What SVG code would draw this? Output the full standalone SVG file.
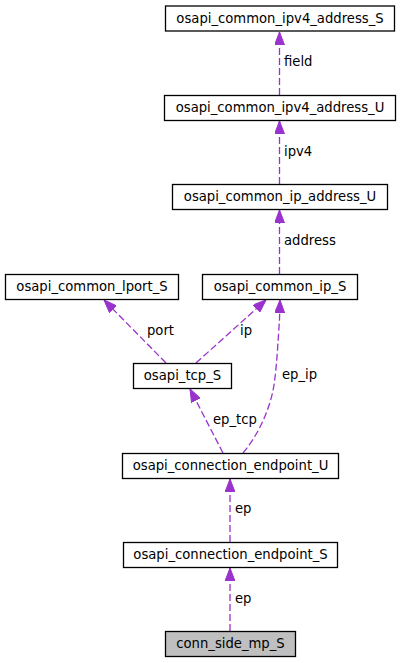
<svg xmlns="http://www.w3.org/2000/svg" width="401" height="663" viewBox="0 0 401 663">
<style>
.node rect{fill:#ffffff;stroke:#000000;stroke-width:1.3}
.node.root rect{fill:#bfbfbf}
text{font-family:"DejaVu Sans","Noto Sans",sans-serif;font-size:13.2px;fill:#000000}
.node text{text-anchor:middle}
.edge{fill:none;stroke:#9a32cd;stroke-width:1.3;stroke-dasharray:7,3;marker-end:url(#arr)}
</style>
<defs>
<marker id="arr" viewBox="0 0 13 10" refX="13" refY="5" markerWidth="13" markerHeight="10" markerUnits="userSpaceOnUse" orient="auto">
<path d="M0,0 L13,5 L0,10 z" fill="#9a32cd" stroke="#9a32cd" stroke-width="1"/>
</marker>
</defs>
<rect width="401" height="663" fill="#ffffff"/>
<g id="connectors">
<path class="edge" d="M279.5,95 L279.5,32"/>
<path class="edge" d="M279.5,184 L279.5,121"/>
<path class="edge" d="M279.5,274 L279.5,210"/>
<path class="edge" d="M166,363 L104,300"/>
<path class="edge" d="M196,363 L266,300"/>
<path class="edge" d="M243,453 C258,435 270,410 274,385 C277,365 278,340 279.5,320 L280,300"/>
<path class="edge" d="M223,453 L190,389"/>
<path class="edge" d="M230,542 L230,479"/>
<path class="edge" d="M230,631 L230,568"/>
<text x="284" y="66">field</text>
<text x="284" y="156">ipv4</text>
<text x="284" y="245">address</text>
<text x="147" y="335">port</text>
<text x="240" y="335">ip</text>
<text x="282" y="379">ep_ip</text>
<text x="213" y="424">ep_tcp</text>
<text x="235" y="513">ep</text>
<text x="235" y="603">ep</text>
</g>
<g id="osapi_common_ipv4_address_S" class="node"><rect x="165.5" y="6" width="229" height="25"/><text x="280" y="22.5">osapi_common_ipv4_address_S</text></g>
<g id="osapi_common_ipv4_address_U" class="node"><rect x="164.5" y="95.5" width="231" height="25"/><text x="280" y="112">osapi_common_ipv4_address_U</text></g>
<g id="osapi_common_ip_address_U" class="node"><rect x="172.5" y="184.5" width="215" height="25"/><text x="280" y="201">osapi_common_ip_address_U</text></g>
<g id="osapi_common_lport_S" class="node"><rect x="5.5" y="274.5" width="173" height="25"/><text x="92" y="291">osapi_common_lport_S</text></g>
<g id="osapi_common_ip_S" class="node"><rect x="202.5" y="274.5" width="155" height="25"/><text x="280" y="291">osapi_common_ip_S</text></g>
<g id="osapi_tcp_S" class="node"><rect x="133.5" y="363.5" width="98" height="25"/><text x="182.5" y="380">osapi_tcp_S</text></g>
<g id="osapi_connection_endpoint_U" class="node"><rect x="122.5" y="453.5" width="216" height="25"/><text x="230.5" y="470">osapi_connection_endpoint_U</text></g>
<g id="osapi_connection_endpoint_S" class="node"><rect x="123.5" y="542.5" width="214" height="25"/><text x="230.5" y="559">osapi_connection_endpoint_S</text></g>
<g id="conn_side_mp_S" class="node root"><rect x="165.5" y="631.5" width="130" height="25"/><text x="230.5" y="648">conn_side_mp_S</text></g>
</svg>
